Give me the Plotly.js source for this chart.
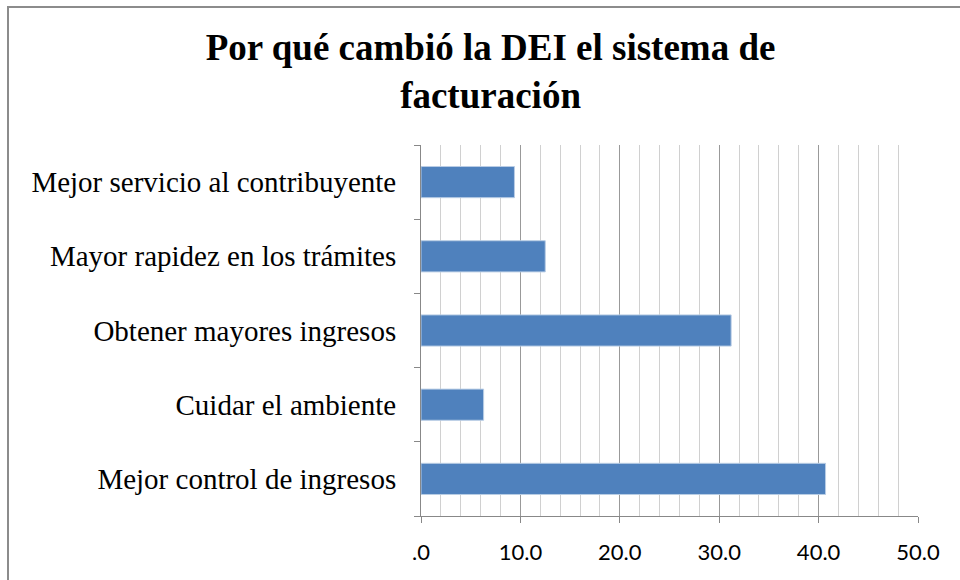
<!DOCTYPE html>
<html><head><meta charset="utf-8">
<script src="https://cdn.plot.ly/plotly-3.0.1.min.js"></script>
<style>
body{margin:0;padding:0;background:#fff;}
#wrap{position:relative;width:960px;height:580px;}
#chart{width:960px;height:580px;}
#frame{position:absolute;left:7px;top:6px;width:960px;height:600px;border:2px solid #8c8c8c;box-sizing:border-box;pointer-events:none;}
</style></head>
<body><div id="wrap"><div id="chart"></div><div id="frame"></div></div>
<script>
const categories = ["Mejor control de ingresos","Cuidar el ambiente","Obtener mayores ingresos","Mayor rapidez en los trámites","Mejor servicio al contribuyente"];
const values = [40.7, 6.3, 31.2, 12.5, 9.4];
const tickVals = [0,10,20,30,40,50];
const tickText = [".0","10.0","20.0","30.0","40.0","50.0"];

Plotly.newPlot('chart', [{
  type:'bar', orientation:'h', x: values, y: categories,
  marker:{color:'#4F81BD', line:{color:'#b9cde5', width:1}},
  width:0.42, hoverinfo:'x+y'
}], {
  width:960, height:580,
  margin:{l:421, r:42, t:145, b:64},
  paper_bgcolor:'#fff', plot_bgcolor:'#fff',
  showlegend:false,
  title:{text:"Por qué cambió la DEI el sistema de<br>facturación", x:0.511, xanchor:'center', xref:'container', y:1-60/580, yanchor:'top', yref:'container',
    font:{family:'"Liberation Serif", "Times New Roman", serif', size:37, color:'#000', weight:'bold'}},
  xaxis:{range:[0,50], tickvals:tickVals, ticktext:tickText, ticks:'outside', ticklen:6, tickcolor:'#888',
    showline:true, linecolor:'#888', linewidth:1, showgrid:true, gridcolor:'#999', gridwidth:1, zeroline:false,
    minor:{dtick:2, tick0:0, showgrid:true, gridcolor:'#d0d0d0', gridwidth:1, ticks:''},
    tickfont:{family:'Lato, "Open Sans", sans-serif', size:22, color:'#000'}, ticklabelstandoff:11, fixedrange:true},
  yaxis:{type:'category', categoryorder:'array', categoryarray:categories, ticks:'outside', ticklen:6, tickcolor:'#888',
    tickson:'boundaries', showline:true, linecolor:'#888', linewidth:1, showgrid:false, zeroline:false,
    tickfont:{family:'"Liberation Serif", "Times New Roman", serif', size:29, color:'#000'}, ticklabelstandoff:18, fixedrange:true}
}, {displayModeBar:false, staticPlot:true});
</script></body></html>
